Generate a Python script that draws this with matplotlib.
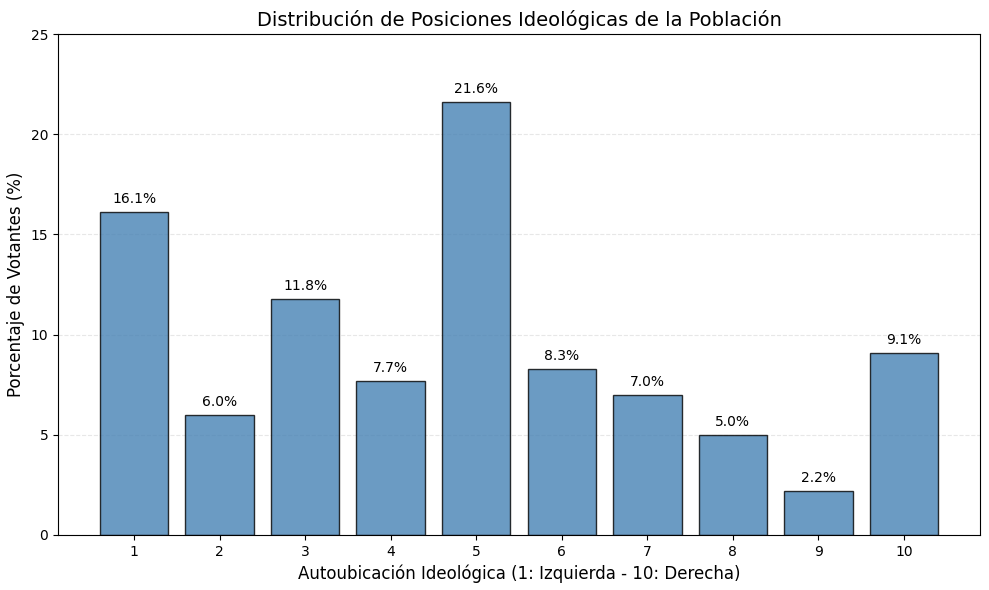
import matplotlib
matplotlib.use("Agg")
import matplotlib.pyplot as plt

# ideological self-placement, share of voters
posiciones = [1, 2, 3, 4, 5, 6, 7, 8, 9, 10]
porcentajes = [16.1, 6.0, 11.8, 7.7, 21.6, 8.3, 7.0, 5.0, 2.2, 9.1]

fig, ax = plt.subplots(figsize=(9.89, 5.9), dpi=100)
bars = ax.bar(posiciones, porcentajes, color='steelblue', alpha=0.8,
              edgecolor='black', linewidth=1)

for b, v in zip(bars, porcentajes):
    ax.text(b.get_x() + b.get_width() / 2, v + 0.3, f'{v:.1f}%',
            ha='center', va='bottom', fontsize=10)

ax.set_title('Distribución de Posiciones Ideológicas de la Población', fontsize=14)
ax.set_xlabel('Autoubicación Ideológica (1: Izquierda - 10: Derecha)', fontsize=12)
ax.set_ylabel('Porcentaje de Votantes (%)', fontsize=12)
ax.set_xticks(posiciones)
ax.set_ylim(0, 25)
ax.grid(axis='y', linestyle='--', alpha=0.3)
ax.set_axisbelow(True)

fig.subplots_adjust(left=58/989, right=980/989, top=1-34/590, bottom=1-535/590)
plt.savefig('out.png')
